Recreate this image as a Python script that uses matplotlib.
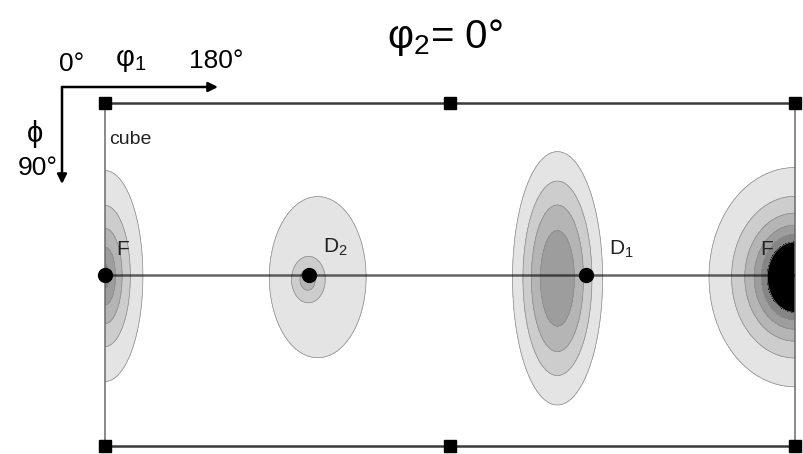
import numpy as np
import matplotlib
matplotlib.use("Agg")
import matplotlib.pyplot as plt

plt.rcParams['font.family'] = ['Liberation Sans', 'DejaVu Sans']
plt.rcParams['mathtext.fontset'] = 'custom'
plt.rcParams['mathtext.rm'] = 'Liberation Sans'
plt.rcParams['mathtext.it'] = 'Liberation Sans'

W, H = 804, 454

# texture components in the phi2 = 0 section (phi1, Phi in degrees)
blob_names = ['F', 'D2', 'D2 core', 'D1', 'F']
blob_phi1 = [0.0, 111.0, 105.5, 236.0, 360.0]
blob_Phi = [45.4, 45.7, 46.4, 46.0, 45.7]
blob_w1 = [10.7, 26.0, 5.4, 13.3, 17.0]      # spread along phi1
blob_wP = [15.0, 21.8, 3.7, 18.9, 10.9]      # spread along Phi
blob_amp = [5.5, 1.6, 1.9, 4.8, 14.0]
blob_shape = [1.3, 2.0, 2.0, 2.2, 1.0]

levels = [1, 2, 3, 4, 5, 6, 1000]
level_colors = ['#e4e4e4', '#cdcdcd', '#b5b5b5', '#9d9d9d', '#858585', '#000000']

# special orientations
square_phi1 = [0, 180, 360, 0, 180, 360]
square_Phi = [0, 0, 0, 90, 90, 90]
dot_phi1 = [0, 106.5, 251]
dot_Phi = [45, 45, 45]
labels = [('F', 6, 38.5), ('D$_2$', 114, 38), ('D$_1$', 263, 38.5), ('F', 342, 38.5)]

g1, gP = np.meshgrid(np.linspace(0, 360, 721), np.linspace(0, 90, 361))
f = np.zeros_like(g1)
for c1, cP, s1, sP, a, p in zip(blob_phi1, blob_Phi, blob_w1, blob_wP, blob_amp, blob_shape):
    r = np.sqrt(((g1 - c1) / s1) ** 2 + ((gP - cP) / sP) ** 2)
    f += a * np.exp(-r ** p / p)

fig = plt.figure(figsize=(W / 100, H / 100), dpi=100)
ax = fig.add_axes([105 / W, (H - 446) / H, 690 / W, 343 / H])
ax.set_xlim(0, 360)
ax.set_ylim(90, 0)
ax.set_xticks([])
ax.set_yticks([])

ax.contourf(g1, gP, f, levels=levels, colors=level_colors, zorder=1)
ax.contour(g1, gP, f, levels=levels[:-1], colors='#8a8a8a', linewidths=0.5, zorder=2)

ax.axhline(45, color='black', alpha=0.6, lw=1.8, zorder=3)
for side in ['top', 'bottom']:
    ax.spines[side].set_color('#3a3a3a')
    ax.spines[side].set_linewidth(1.8)
for side in ['left', 'right']:
    ax.spines[side].set_color('#6a6a6a')
    ax.spines[side].set_linewidth(1.1)

ax.plot(square_phi1, square_Phi, 's', color='black', ms=9, clip_on=False, zorder=5)
ax.plot(dot_phi1, dot_Phi, 'o', color='black', ms=10, clip_on=False, zorder=5)

for txt, x, y in labels:
    ax.text(x, y, txt, fontsize=15, color='#222222', ha='left', va='center', zorder=4)
ax.text(2, 9.5, 'cube', fontsize=14, color='#222222', ha='left', va='center', zorder=4)


def px(x, y):
    return x / W, 1 - y / H


# orientation key in the corner
arrow = dict(arrowstyle='-|>', color='black', lw=1.8, mutation_scale=14, shrinkA=0, shrinkB=0)
fig.add_artist(matplotlib.patches.FancyArrowPatch(px(62, 87), px(218, 87), transform=fig.transFigure, **arrow))
fig.add_artist(matplotlib.patches.FancyArrowPatch(px(62, 87), px(62, 184), transform=fig.transFigure, **arrow))
fig.text(*px(72, 64), '0°', fontsize=19, ha='center', va='center')
fig.text(*px(131, 60), 'φ$_1$', fontsize=21, ha='center', va='center')
fig.text(*px(216, 61), '180°', fontsize=19, ha='center', va='center')
fig.text(*px(35, 134), 'ϕ', fontsize=21, ha='center', va='center')
fig.text(*px(38, 168), '90°', fontsize=19, ha='center', va='center')
fig.text(*px(445, 37), 'φ$_2$= 0°', fontsize=29, ha='center', va='center')

fig.savefig('out.png', dpi=100)
